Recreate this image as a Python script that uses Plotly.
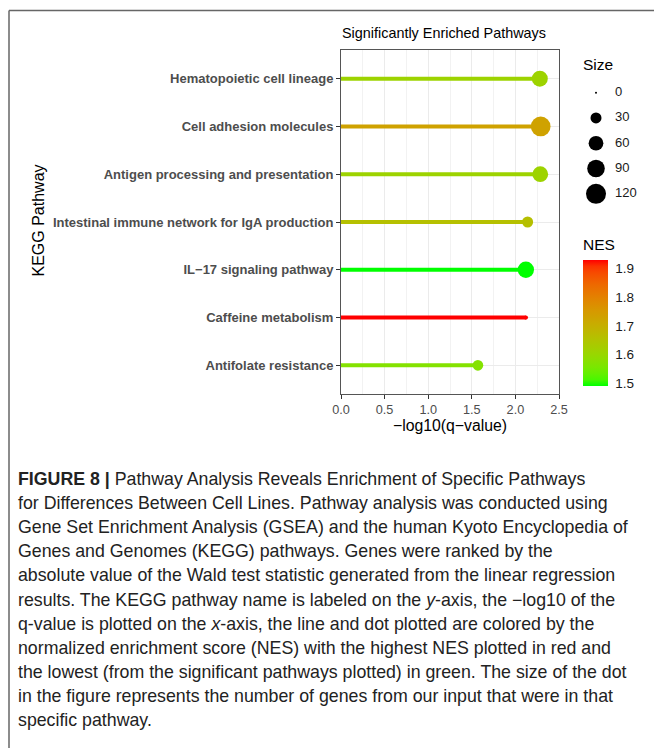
import math
import plotly.graph_objects as go

# ---------------- data ----------------
pathways = [
    "Hematopoietic cell lineage",
    "Cell adhesion molecules",
    "Antigen processing and presentation",
    "Intestinal immune network for IgA production",
    "IL\u221217 signaling pathway",
    "Caffeine metabolism",
    "Antifolate resistance",
]
neg_log10_q = [2.28, 2.29, 2.285, 2.14, 2.12, 2.12, 1.57]
nes = [1.61, 1.73, 1.61, 1.66, 1.49, 1.93, 1.57]
gene_count = [72, 116, 70, 30, 76, 2, 28]

size_breaks = [0, 30, 60, 90, 120]
nes_ticks = [1.5, 1.6, 1.7, 1.8, 1.9]
x_ticks = [0.0, 0.5, 1.0, 1.5, 2.0, 2.5]

caption_lines = [
    "<b>FIGURE 8 |</b> Pathway Analysis Reveals Enrichment of Specific Pathways",
    "for Differences Between Cell Lines. Pathway analysis was conducted using",
    "Gene Set Enrichment Analysis (GSEA) and the human Kyoto Encyclopedia of",
    "Genes and Genomes (KEGG) pathways. Genes were ranked by the",
    "absolute value of the Wald test statistic generated from the linear regression",
    "results. The KEGG pathway name is labeled on the <i>y</i>-axis, the \u2212log10 of the",
    "q-value is plotted on the <i>x</i>-axis, the line and dot plotted are colored by the",
    "normalized enrichment score (NES) with the highest NES plotted in red and",
    "the lowest (from the significant pathways plotted) in green. The size of the dot",
    "in the figure represents the number of genes from our input that were in that",
    "specific pathway.",
]

# ---------------- helpers ----------------
W, H = 654, 748
FONT = "Liberation Sans, Arial, sans-serif"


def px_x(p):
    return p / W


def px_y(p):
    return 1 - p / H


# Lab-space gradient green -> red (like ggplot's scale_colour_gradient)
_M = [[0.4124564, 0.3575761, 0.1804375],
      [0.2126729, 0.7151522, 0.0721750],
      [0.0193339, 0.1191920, 0.9503041]]
_Mi = [[3.2404542, -1.5371385, -0.4985314],
       [-0.9692660, 1.8760108, 0.0415560],
       [0.0556434, -0.2040259, 1.0572252]]
_WN = (0.95047, 1.0, 1.08883)
_d = 6 / 29


def _lin(c):
    c = c / 255
    return c / 12.92 if c <= 0.04045 else ((c + 0.055) / 1.055) ** 2.4


def _gam(c):
    c = 12.92 * c if c <= 0.0031308 else 1.055 * c ** (1 / 2.4) - 0.055
    return max(0, min(255, round(c * 255)))


def _f(t):
    return t ** (1 / 3) if t > _d ** 3 else t / (3 * _d * _d) + 4 / 29


def _fi(t):
    return t ** 3 if t > _d else 3 * _d * _d * (t - 4 / 29)


def to_lab(rgb):
    r, g, b = [_lin(c) for c in rgb]
    xyz = [sum(_M[i][j] * v for j, v in enumerate((r, g, b))) for i in range(3)]
    fx, fy, fz = [_f(xyz[i] / _WN[i]) for i in range(3)]
    return (116 * fy - 16, 500 * (fx - fy), 200 * (fy - fz))


def from_lab(lab):
    L, a, b = lab
    fy = (L + 16) / 116
    fx = fy + a / 500
    fz = fy - b / 200
    xyz = [_WN[0] * _fi(fx), _WN[1] * _fi(fy), _WN[2] * _fi(fz)]
    rgb = [sum(_Mi[i][j] * v for j, v in enumerate(xyz)) for i in range(3)]
    return "rgb(%d,%d,%d)" % tuple(_gam(max(0, c)) for c in rgb)


LOW, HIGH = to_lab((0, 255, 0)), to_lab((255, 0, 0))


def grad(t):
    t = max(0.0, min(1.0, t))
    return from_lab(tuple(LOW[i] + t * (HIGH[i] - LOW[i]) for i in range(3)))


cmin, cmax = min(nes), max(nes)
colorscale = [[i / 20, grad(i / 20)] for i in range(21)]


def size_px(v):
    return 2 + 18 * math.sqrt(v / 120)


# colour bar geometry (pixels)
CB_X0, CB_W, CB_TOP, CB_BOT = 583, 25, 260, 386

# ---------------- figure ----------------
fig = go.Figure()

# lollipop stems
for p, xv, n in zip(pathways, neg_log10_q, nes):
    fig.add_trace(go.Scatter(
        x=[0, xv], y=[p, p], mode="lines",
        line=dict(color=grad((n - cmin) / (cmax - cmin)), width=4),
        hoverinfo="skip", showlegend=False,
    ))

# lollipop heads
fig.add_trace(go.Scatter(
    x=neg_log10_q, y=pathways, mode="markers", showlegend=False,
    marker=dict(
        size=[size_px(v) for v in gene_count],
        color=nes, colorscale=colorscale, cmin=cmin, cmax=cmax,
        line=dict(width=0), opacity=1,
        colorbar=dict(
            x=px_x(CB_X0), xanchor="left", xpad=0,
            y=px_y((CB_TOP + CB_BOT) / 2), yanchor="middle", ypad=0,
            len=(CB_BOT - CB_TOP) / H, lenmode="fraction", thickness=CB_W,
            outlinewidth=0,
            tickvals=nes_ticks, ticktext=[f"{v:.1f}" for v in nes_ticks],
            ticks="outside", ticklen=5, tickcolor="rgba(0,0,0,0)", tickwidth=1,
            tickfont=dict(family=FONT, size=13.5, color="#1a1a1a"),
        ),
    ),
))

# size legend (own small axes)
fig.add_trace(go.Scatter(
    x=[13] * len(size_breaks), y=[str(b) for b in size_breaks], mode="markers",
    marker=dict(size=[size_px(b) for b in size_breaks], color="#000000",
                line=dict(width=0), opacity=1),
    xaxis="x2", yaxis="y2", showlegend=False, hoverinfo="skip",
))
fig.add_trace(go.Scatter(
    x=[32] * len(size_breaks), y=[str(b) for b in size_breaks], mode="text",
    text=[str(b) for b in size_breaks], textposition="middle right",
    textfont=dict(family=FONT, size=13, color="#1a1a1a"),
    xaxis="x2", yaxis="y2", showlegend=False, hoverinfo="skip",
))

# white ticks on both sides of the colour bar
shapes = []
for v in nes_ticks:
    yp = CB_BOT - (v - cmin) / (cmax - cmin) * (CB_BOT - CB_TOP)
    for xa, xb in [(CB_X0, CB_X0 + 5), (CB_X0 + CB_W - 5, CB_X0 + CB_W)]:
        shapes.append(dict(type="line", xref="paper", yref="paper",
                           x0=px_x(xa), x1=px_x(xb), y0=px_y(yp), y1=px_y(yp),
                           line=dict(color="white", width=1)))

# outer frame
shapes.append(dict(type="line", xref="paper", yref="paper",
                   x0=px_x(9), x1=1, y0=px_y(10.5), y1=px_y(10.5),
                   line=dict(color="#666", width=1.5)))
shapes.append(dict(type="line", xref="paper", yref="paper",
                   x0=px_x(9), x1=px_x(9), y0=px_y(10.5), y1=0,
                   line=dict(color="#666", width=1.5)))

annotations = [
    dict(text="Significantly Enriched Pathways", x=px_x(340), y=px_y(33),
         xref="paper", yref="paper", xanchor="left", yanchor="middle",
         showarrow=False, font=dict(family=FONT, size=14.4, color="#000")),
    dict(text="KEGG Pathway", x=px_x(38.5), y=px_y(221), textangle=-90,
         xref="paper", yref="paper", xanchor="center", yanchor="middle",
         showarrow=False, font=dict(family=FONT, size=16, color="#000")),
    dict(text="Size", x=px_x(581), y=px_y(64),
         xref="paper", yref="paper", xanchor="left", yanchor="middle",
         showarrow=False, font=dict(family=FONT, size=15.5, color="#000")),
    dict(text="NES", x=px_x(581), y=px_y(245),
         xref="paper", yref="paper", xanchor="left", yanchor="middle",
         showarrow=False, font=dict(family=FONT, size=15.5, color="#000")),
]
for i, line in enumerate(caption_lines):
    annotations.append(dict(
        text=line, x=px_x(16), y=px_y(479 + 24.1 * i),
        xref="paper", yref="paper", xanchor="left", yanchor="middle",
        showarrow=False, align="left",
        font=dict(family=FONT, size=17.75, color="#222"),
    ))

fig.update_layout(
    width=W, height=H, margin=dict(l=0, r=0, t=0, b=0, autoexpand=False),
    paper_bgcolor="white", plot_bgcolor="white",
    font=dict(family=FONT),
    xaxis=dict(
        domain=[px_x(341), px_x(559)], range=[0, 2.5], automargin=False,
        tickvals=x_ticks, ticktext=[f"{v:.1f}" for v in x_ticks],
        ticks="outside", ticklen=4, tickcolor="#333", tickwidth=1,
        tickfont=dict(family=FONT, size=12.7, color="#4d4d4d"),
        showgrid=True, gridcolor="#ebebeb", gridwidth=1,
        minor=dict(dtick=0.25, tick0=0, showgrid=True, gridcolor="#f2f2f2", gridwidth=1),
        showline=True, linecolor="#555", linewidth=1, mirror=True,
        zeroline=False,
        title=dict(text="\u2212log10(q\u2212value)", standoff=3,
                   font=dict(family=FONT, size=15.8, color="#000")),
    ),
    yaxis=dict(
        domain=[px_y(394), px_y(50)], type="category", automargin=False,
        categoryorder="array", categoryarray=pathways[::-1],
        range=[-0.6, len(pathways) - 0.4],
        ticks="outside", ticklen=4, tickcolor="#333", tickwidth=1,
        tickfont=dict(family=FONT, size=13, color="#4d4d4d", weight="bold"),
        showgrid=True, gridcolor="#ebebeb", gridwidth=1,
        showline=True, linecolor="#555", linewidth=1, mirror=True,
        zeroline=False,
    ),
    xaxis2=dict(domain=[px_x(583), px_x(645)], range=[0, 62], visible=False,
                fixedrange=True, automargin=False, anchor="y2"),
    yaxis2=dict(domain=[px_y(206.5), px_y(80)], type="category",
                categoryorder="array",
                categoryarray=[str(b) for b in size_breaks][::-1],
                range=[-0.5, len(size_breaks) - 0.5], visible=False, fixedrange=True,
                anchor="x2", automargin=False),
    shapes=shapes,
    annotations=annotations,
)

fig.write_html("out.html")
